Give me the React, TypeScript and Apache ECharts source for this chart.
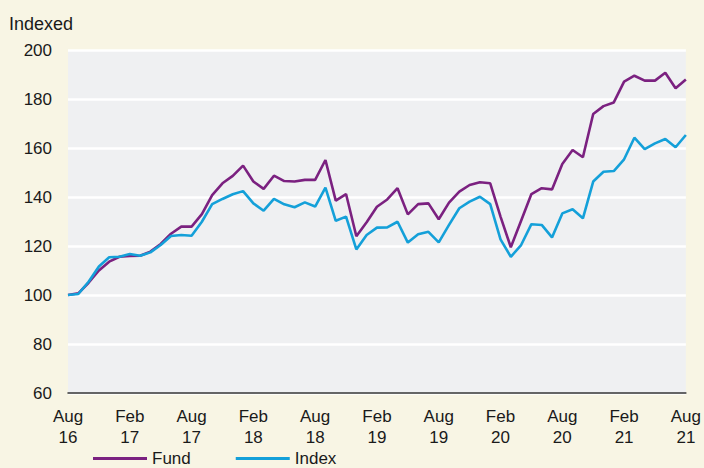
import React, { useEffect, useRef } from "react";
import * as echarts from "echarts";

const months = [
  "Aug 16", "Sep 16", "Oct 16", "Nov 16", "Dec 16", "Jan 17",
  "Feb 17", "Mar 17", "Apr 17", "May 17", "Jun 17", "Jul 17",
  "Aug 17", "Sep 17", "Oct 17", "Nov 17", "Dec 17", "Jan 18",
  "Feb 18", "Mar 18", "Apr 18", "May 18", "Jun 18", "Jul 18",
  "Aug 18", "Sep 18", "Oct 18", "Nov 18", "Dec 18", "Jan 19",
  "Feb 19", "Mar 19", "Apr 19", "May 19", "Jun 19", "Jul 19",
  "Aug 19", "Sep 19", "Oct 19", "Nov 19", "Dec 19", "Jan 20",
  "Feb 20", "Mar 20", "Apr 20", "May 20", "Jun 20", "Jul 20",
  "Aug 20", "Sep 20", "Oct 20", "Nov 20", "Dec 20", "Jan 21",
  "Feb 21", "Mar 21", "Apr 21", "May 21", "Jun 21", "Jul 21",
  "Aug 21",
];

const fund = [
  100, 100.7, 105, 110, 113.6, 115.6, 115.9, 116, 117.7, 120.8,
  125, 127.9, 127.9, 133, 140.8, 145.6, 148.6, 152.8, 146.3, 143.3,
  148.7, 146.5, 146.3, 147, 147, 155.1, 138.5, 141.2, 124, 129.7,
  136, 139, 143.6, 132.9, 137.1, 137.4, 130.9, 137.7, 142.2, 144.9,
  146, 145.6, 132, 119.5, 130.3, 141.2, 143.6, 143.1, 153.5, 159.2,
  156.2, 173.9, 177.1, 178.6, 187.1, 189.5, 187.5, 187.5, 190.7, 184.4,
  188,
];

const indexVals = [
  100, 100.4, 105.4, 111.6, 115.4, 115.6, 116.7, 116, 117.4, 120.4,
  124.1, 124.5, 124.2, 129.9, 137.1, 139.2, 141.1, 142.4, 137.4, 134.4,
  139.2, 137, 135.8, 137.8, 136.1, 143.8, 130.3, 132, 118.6, 124.5,
  127.5, 127.6, 129.9, 121.4, 124.8, 125.8, 121.5, 128.6, 135.4, 138.1,
  140.1, 137.1, 122.7, 115.6, 120.4, 128.9, 128.6, 123.5, 133.3, 135,
  131.3, 146.3, 150.3, 150.6, 155.4, 164.2, 159.5, 161.9, 163.7, 160.3,
  165.3,
];

const FONT = "'Liberation Sans', Arial, Helvetica, sans-serif";

export default function App() {
  const ref = useRef<HTMLDivElement>(null);

  useEffect(() => {
    if (!ref.current) return;
    const chart = echarts.init(ref.current, null, { renderer: "svg" });
    chart.setOption({
      animation: false,
      backgroundColor: "#f8f5e4",
      textStyle: { fontFamily: FONT },
      title: {
        text: "Indexed",
        left: 4,
        top: 10,
        textStyle: { fontFamily: FONT, fontSize: 18, fontWeight: "normal", color: "#1a1a1a" },
      },
      legend: {
        left: 88,
        top: 445,
        icon: "rect",
        itemWidth: 54,
        itemHeight: 3,
        itemGap: 45,
        textStyle: { fontFamily: FONT, fontSize: 17, color: "#1a1a1a" },
        data: ["Fund", "Index"],
      },
      grid: {
        left: 68,
        right: 18,
        top: 50,
        bottom: 75,
        show: true,
        backgroundColor: "#eff0f2",
        borderWidth: 0,
      },
      xAxis: {
        type: "category",
        data: months,
        boundaryGap: false,
        axisLine: { lineStyle: { color: "#333333", width: 1.5 } },
        axisTick: { show: false },
        axisLabel: {
          interval: (i: number) => i % 6 === 0,
          formatter: (v: string) => v.replace(" ", "\n"),
          fontFamily: FONT,
          fontSize: 17,
          lineHeight: 21,
          margin: 13,
          color: "#1a1a1a",
          showMaxLabel: true,
        },
        splitLine: { show: false },
      },
      yAxis: {
        type: "value",
        min: 60,
        max: 200,
        interval: 20,
        axisLine: { show: false },
        axisTick: { show: false },
        axisLabel: { fontFamily: FONT, fontSize: 17, color: "#1a1a1a", margin: 16 },
        splitLine: { lineStyle: { color: "#ffffff", width: 2.5 } },
      },
      series: [
        {
          name: "Fund",
          type: "line",
          data: fund,
          symbol: "none",
          color: "#7b2180",
          lineStyle: { width: 2.6, color: "#7b2180" },
          z: 2,
        },
        {
          name: "Index",
          type: "line",
          data: indexVals,
          symbol: "none",
          color: "#14a0d9",
          lineStyle: { width: 2.6, color: "#14a0d9" },
          z: 3,
        },
      ],
    });
    return () => chart.dispose();
  }, []);

  return (
    <div
      ref={ref}
      style={{ position: "fixed", left: 0, top: 0, width: 704, height: 468 }}
    />
  );
}
